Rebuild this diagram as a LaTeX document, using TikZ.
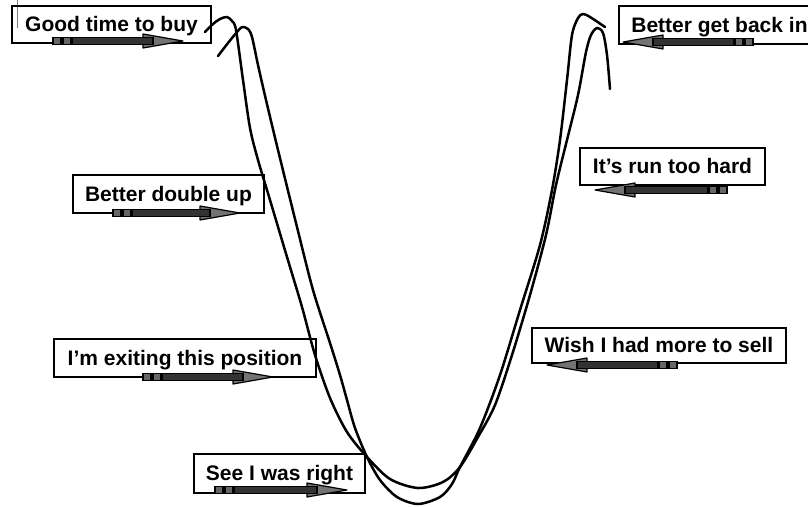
\documentclass[tikz,border=0pt]{standalone}
\usepackage{fontspec}
\setmainfont{Liberation Sans}
\newcommand\decoarrow[3]{%
  \pgfmathsetmacro\arrsgn{(#2>#1)?1:-1}%
  \pgfmathsetmacro\arrlen{abs(#2-#1)}%
  \begin{scope}[shift={(#1,#3)}, xscale=\arrsgn]
    \draw[line width=1.2pt, fill=black!55, line join=round] (\arrlen-40,-7) -- (\arrlen,0) -- (\arrlen-40,7) -- cycle;
    \draw[line width=1.2pt, fill=black!80] (19,-3.2) rectangle (\arrlen-30,3.2);
    \draw[line width=1.2pt, fill=black!60] (0,-3.5) rectangle (8,3.5);
    \draw[line width=1.2pt, fill=black!60] (10,-3.5) rectangle (18,3.5);
  \end{scope}}
\begin{document}
\begin{tikzpicture}[x=1pt,y=-1pt,
  lbl/.style={draw=black, line width=2.5pt, font=\bfseries\fontsize{21}{24}\selectfont,
    text height=16pt, text depth=2pt, inner sep=0pt, align=center},
  curve/.style={line width=2.5pt, line join=round, line cap=round}]
\useasboundingbox (0,0) rectangle (808,506);
\fill[white] (0,0) rectangle (808,506);
\clip (0,0) rectangle (808,506);

% thin stray line
\draw[gray, line width=1pt] (17,0) -- (17,28);

% curves
\draw[curve] plot[smooth, tension=0.5] coordinates {(205,32) (213,24) (220,19) (227,17) (232,21) (236,30) (243,80) (250,128) (258,160) (270,200) (287,257) (302,307) (315,355) (330,398) (347,432) (367,457) (390,479) (418,488) (443,482) (460,467) (478,437) (495,405) (512,355) (530,295) (546,235) (556,185) (567,140) (578,95) (586,52) (591,35) (597,28) (603,33) (607,55) (610,89)};
\draw[curve] plot[smooth, tension=0.5] coordinates {(218,56) (228,43) (237,32) (242,27) (248,29) (252,37) (258,65) (266,100) (278,150) (297,227) (313,290) (330,343) (340,375) (347,400) (355,428) (367,457) (380,480) (397,497) (418,504) (440,497) (452,484) (460,467) (480,428) (500,375) (520,310) (540,245) (552,190) (560,140) (567,80) (572,35) (578,18) (583,14) (590,17) (605,27)};

% labels
\node[lbl, minimum width=199pt, minimum height=37pt] (buy) at (111.5,24.5) {Good time to buy};
\node[lbl, minimum width=201pt, minimum height=38pt] (back) at (719.5,25) {Better get back in};
\node[lbl, minimum width=191pt, minimum height=38pt] (double) at (168.5,194) {Better double up};
\node[lbl, minimum width=262pt, minimum height=38pt] (exit) at (185,358) {I’m exiting this position};
\node[lbl, minimum width=171pt, minimum height=39pt] (right) at (279.5,473.5) {See I was right};
\node[lbl, minimum width=254pt, minimum height=35pt] (wish) at (659,345.5) {Wish I had more to sell};
\node[lbl, minimum width=185pt, minimum height=37pt] (hard) at (672.5,166.5) {It’s run too hard};

% decorative arrows
\decoarrow{53}{183}{41}
\decoarrow{753}{623}{42}
\decoarrow{113}{240}{213}
\decoarrow{143}{273}{377}
\decoarrow{215}{347}{490}
\decoarrow{677}{547}{365}
\decoarrow{727}{595}{190}
\end{tikzpicture}
\end{document}
